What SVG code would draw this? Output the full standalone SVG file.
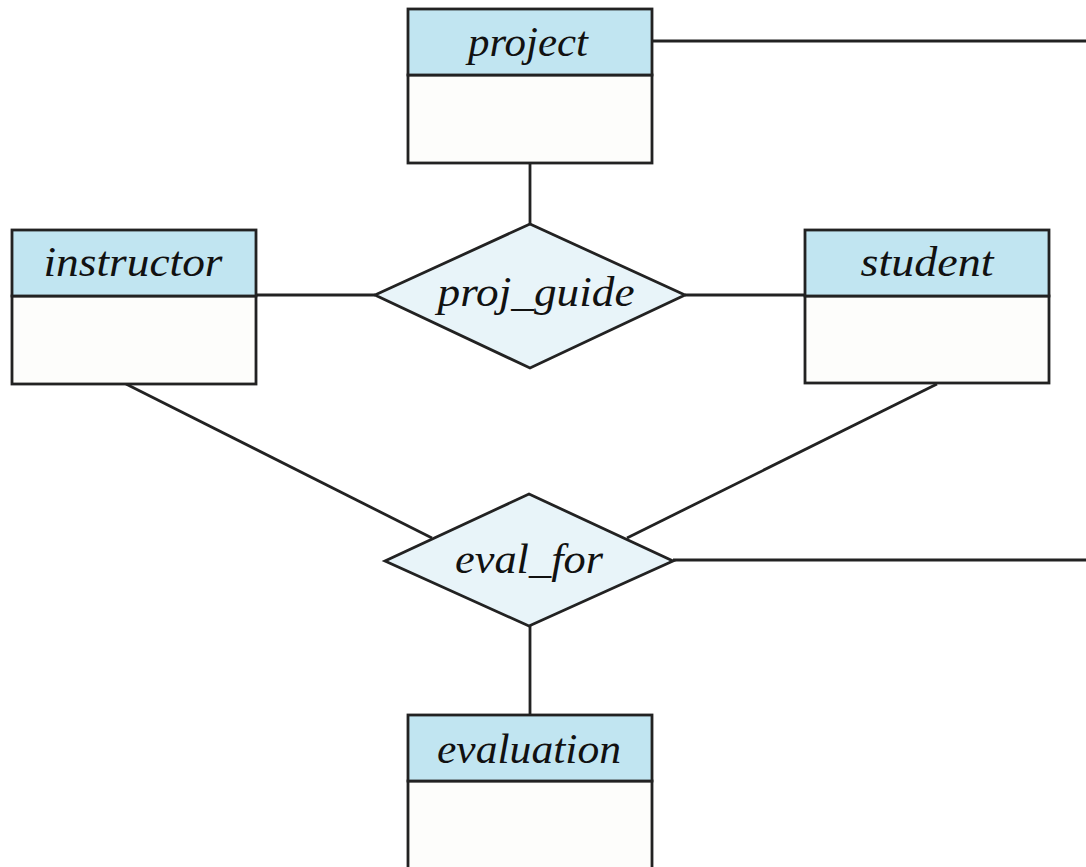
<svg xmlns="http://www.w3.org/2000/svg" width="1086" height="867" viewBox="0 0 1086 867">
<style>
.hdr{fill:#c1e5f1;stroke:#222;stroke-width:2.8}
.body{fill:#fdfdfb;stroke:#222;stroke-width:2.8}
.rel{fill:#e8f4f9;stroke:#222;stroke-width:2.8}
.ln{stroke:#222;stroke-width:2.8;fill:none}
text{font-family:"Liberation Serif","DejaVu Serif",serif;font-style:italic;font-size:43px;fill:#111;text-anchor:middle}
</style>
<rect width="1086" height="867" fill="#ffffff"/>
<g id="connectors">
<line class="ln" x1="652" y1="41" x2="1086" y2="41"/>
<line class="ln" x1="530" y1="163" x2="530" y2="224"/>
<line class="ln" x1="256" y1="295" x2="375" y2="295"/>
<line class="ln" x1="685" y1="295" x2="805" y2="295"/>
<line class="ln" x1="126" y1="384" x2="432" y2="538"/>
<line class="ln" x1="937" y1="384" x2="627" y2="538"/>
<line class="ln" x1="673" y1="560" x2="1086" y2="560"/>
<line class="ln" x1="530" y1="626" x2="530" y2="715"/>
</g>
<g id="project">
<rect class="body" x="408" y="75" width="244" height="88"/>
<rect class="hdr" x="408" y="9" width="244" height="66"/>
<text x="528" y="56" textLength="120" lengthAdjust="spacingAndGlyphs">project</text>
</g>
<g id="instructor">
<rect class="body" x="12" y="296" width="244" height="88"/>
<rect class="hdr" x="12" y="230" width="244" height="66"/>
<text x="133" y="276" textLength="179" lengthAdjust="spacingAndGlyphs">instructor</text>
</g>
<g id="student">
<rect class="body" x="805" y="296" width="244" height="87"/>
<rect class="hdr" x="805" y="230" width="244" height="66"/>
<text x="927" y="276" textLength="133" lengthAdjust="spacingAndGlyphs">student</text>
</g>
<g id="proj_guide">
<polygon class="rel" points="530,224 685,295 530,368 375,295"/>
<text x="536" y="306" textLength="197" lengthAdjust="spacingAndGlyphs">proj_guide</text>
</g>
<g id="eval_for">
<polygon class="rel" points="529,494 673,561 529,626 385,561"/>
<text x="529" y="573" textLength="148" lengthAdjust="spacingAndGlyphs">eval_for</text>
</g>
<g id="evaluation">
<rect class="body" x="408" y="781" width="244" height="100"/>
<rect class="hdr" x="408" y="715" width="244" height="66"/>
<text x="529" y="763" textLength="184" lengthAdjust="spacingAndGlyphs">evaluation</text>
</g>
</svg>
